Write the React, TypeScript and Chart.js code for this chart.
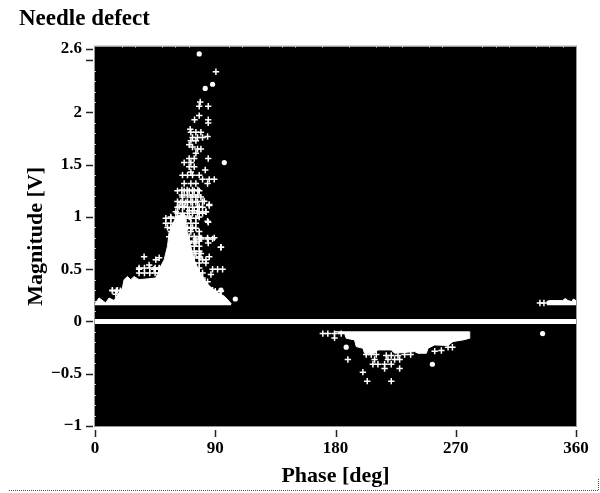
import React, { useEffect, useRef } from "react";
import { Chart, registerables } from "chart.js";

Chart.register(...registerables);

const TITLE = "Needle defect";
const X_TITLE = "Phase [deg]";
const Y_TITLE = "Magnitude [V]";
const xTicks = [0, 90, 180, 270, 360];
const yTicks = [-1, -0.5, 0, 0.5, 1, 1.5, 2, 2.5, 2.61];
const yTickLabels = ["\u22121", "\u22120.5", "0", "0.5", "1", "1.5", "2", "", "2.6"];
const xMinor = [20, 30, 50, 60, 70, 100, 110, 130, 140, 150, 170, 190, 210, 220, 230, 250, 260, 290, 300, 310, 330, 340, 350];
const yMinor = [-0.9, -0.8, -0.7, -0.6, -0.4, -0.3, -0.2, -0.1, 0.1, 0.2, 0.3, 0.4, 0.6, 0.7, 0.8, 0.9, 1.1, 1.2, 1.3, 1.4, 1.6, 1.7, 1.8, 1.9, 2.1, 2.2, 2.3, 2.4];

// Solid white masses of overlapping points, read as outlines
const lobeAPhase = [0, 3, 8, 10.5, 14.25, 17, 20.5, 21.75, 24.25, 26.75, 29.25, 33, 45.5, 49.25, 51.75, 54.25, 55.5, 60.5, 66.75, 68, 70.5, 74, 78, 84, 90, 97, 102];
const lobeAMag = [0.17, 0.225, 0.178, 0.225, 0.2, 0.257, 0.32, 0.4, 0.43, 0.4, 0.43, 0.4, 0.416, 0.53, 0.59, 0.72, 0.85, 1.0, 1.04, 0.91, 0.78, 0.6, 0.48, 0.36, 0.29, 0.24, 0.17];
const lobeBPhase = [179.25, 186.75, 188, 194.25, 195.5, 200.5, 201.75, 209.25, 211.75, 221.75, 224.25, 239.25, 241.75, 248, 249.25, 254.25, 264.25, 268, 275.5, 280.5, 280.5];
const lobeBMag = [-0.097, -0.113, -0.16, -0.176, -0.24, -0.256, -0.304, -0.304, -0.272, -0.272, -0.304, -0.288, -0.304, -0.304, -0.256, -0.224, -0.23, -0.192, -0.176, -0.16, -0.097];
const lobeCPhase = [338, 340, 350, 352, 354, 357, 358, 360];
const lobeCMag = [0.19, 0.2, 0.2, 0.22, 0.2, 0.19, 0.215, 0.2];
const zeroPhase = [0, 360];
const zeroMag = [0, 0];

const crossPhase = [
  90.5, 78.75, 78, 84.75, 78, 74.5, 84.75, 84.75, 71.25,
  71.75, 75.5, 79.25, 73, 76.75, 80.5, 84.25, 71.75, 75.5, 70.5, 73, 76.75, 79.25, 75.5, 84.75,
  66.75, 70.5, 74.25, 71.75, 70.5, 74.25, 82.5, 71.75, 65.5, 69.25, 73, 78, 80.5, 85.5, 89.25,
  66.75, 71.75, 75.5, 84.25, 61.75, 66.75, 70.5, 74.25, 78, 65.5, 71.75, 75.5, 79.25, 81.75, 85.5,
  64.25, 68, 71.75, 75.5, 78, 63, 66.75, 70.5, 74.25, 78, 83, 60.5, 56.75, 61.75, 65.5, 70.5, 78,
  84.75, 54.25, 58, 69.25, 73, 78, 56.75, 71.75, 75.5, 79.25, 84.25, 88, 84.75, 94.25, 55.5, 70.5, 75.5,
  36.75, 40.5, 45.5, 48, 33, 44.25, 48, 85.5, 79.25, 78, 83, 94.25, 89.25, 84.25, 79.25, 84.25, 83, 78, 85.5,
  95.5, 91.75, 88, 86.75, 84.25, 80.5, 83, 88, 84.25, 91.75, 13, 16.75, 15.5, 70.5, 75.5, 70.5, 75.5, 80.5,
  // dense mesh beside the main column
  66.75, 70.5, 74.25, 78, 66.75, 70.5, 74.25, 78, 66.75, 70.5, 74.25, 78, 66.75, 70.5, 74.25, 78,
  66.75, 70.5, 74.25, 78, 66.75, 70.5, 74.25, 78, 66.75, 70.5, 74.25, 78, 66.75, 70.5, 74.25, 78,
  66.75, 70.5, 74.25, 78, 80.5, 80.5, 81.75, 85.5, 90, 94.25, 81.75, 85.5, 90, 94.25,
  33, 37, 41, 45, 48, 33, 37, 41, 45, 48, 13, 16, 19,
  61.75, 65.5, 69.25, 73, 76.75, 80.5, 61.75, 65.5, 69.25, 73, 76.75, 80.5, 61.75, 65.5, 69.25, 73, 76.75, 80.5,
  65, 69, 73, 77, 65, 69, 73, 77,
  53, 56.75, 60.5, 64.25, 68, 71.75, 75.5, 53, 56.75, 60.5, 64.25, 68, 71.75, 75.5, 56.75, 60.5, 64.25, 68, 71.75, 75.5,
  // lower lobe
  170.5, 174.25, 179.25, 179.25, 184.25, 189.25, 203, 206.75, 210.5, 218, 221.75, 226.75, 231.75, 236.25,
  209.25, 219.25, 224.25, 228, 208, 211.75, 216.75, 221.75, 216.75, 228, 200.5, 203.75, 221.75,
  254.25, 259.25, 264.25, 267.5, 333, 336,
];
const crossMag = [
  2.39, 2.1, 2.06, 2.06, 1.97, 1.93, 1.93, 1.9, 1.84,
  1.81, 1.81, 1.81, 1.76, 1.76, 1.76, 1.77, 1.73, 1.73, 1.69, 1.67, 1.65, 1.65, 1.61, 1.56,
  1.52, 1.56, 1.56, 1.52, 1.48, 1.48, 1.45, 1.43, 1.4, 1.4, 1.4, 1.4, 1.36, 1.36, 1.36,
  1.32, 1.32, 1.32, 1.32, 1.25, 1.25, 1.25, 1.25, 1.25, 1.19, 1.19, 1.19, 1.19, 1.15, 1.11,
  1.14, 1.14, 1.14, 1.14, 1.1, 1.1, 1.1, 1.06, 1.06, 1.05, 1.05, 1.05, 1.0, 1.0, 1.0, 1.0, 1.0,
  0.95, 0.9, 0.9, 0.9, 0.9, 0.86, 0.86, 0.86, 0.79, 0.79, 0.79, 0.79, 0.75, 0.71, 0.81, 0.75, 0.75,
  0.62, 0.54, 0.59, 0.61, 0.5, 0.5, 0.5, 0.62, 0.65, 0.62, 0.59, 0.71, 0.8, 0.8, 0.8, 0.96, 1.05, 1.05, 1.12,
  0.5, 0.5, 0.5, 0.45, 0.38, 0.59, 0.56, 0.3, 0.3, 0.24, 0.3, 0.3, 0.26, 0.75, 0.65, 0.57, 0.46, 0.4,
  0.814, 0.814, 0.814, 0.814, 0.767, 0.767, 0.767, 0.767, 0.719, 0.719, 0.719, 0.719, 0.671, 0.671, 0.671, 0.671,
  0.607, 0.607, 0.607, 0.607, 0.56, 0.56, 0.56, 0.56, 0.512, 0.512, 0.512, 0.512, 0.464, 0.464, 0.464, 0.464,
  0.416, 0.416, 0.416, 0.416, 0.416, 0.464, 0.29, 0.29, 0.29, 0.29, 0.24, 0.24, 0.24, 0.24,
  0.464, 0.464, 0.464, 0.464, 0.464, 0.512, 0.512, 0.512, 0.512, 0.512, 0.295, 0.295, 0.295,
  1.147, 1.147, 1.147, 1.147, 1.147, 1.147, 1.093, 1.093, 1.093, 1.093, 1.093, 1.093, 1.036, 1.036, 1.036, 1.036, 1.036, 1.036,
  1.259, 1.259, 1.259, 1.259, 1.21, 1.21, 1.21, 1.21,
  0.988, 0.988, 0.988, 0.988, 0.988, 0.988, 0.988, 0.94, 0.94, 0.94, 0.94, 0.94, 0.94, 0.94, 0.893, 0.893, 0.893, 0.893, 0.893, 0.893,
  -0.116, -0.116, -0.116, -0.157, -0.116, -0.364, -0.316, -0.316, -0.316, -0.326, -0.326, -0.326, -0.316, -0.316,
  -0.364, -0.364, -0.364, -0.364, -0.409, -0.409, -0.409, -0.409, -0.45, -0.45, -0.485, -0.571, -0.571,
  -0.284, -0.278, -0.246, -0.246, 0.177, 0.177,
];
const dotPhase = [78, 88, 82.5, 96.75, 105, 94.25, 188, 252.5, 335];
const dotMag = [2.56, 2.27, 2.23, 1.52, 0.215, 0.3, -0.246, -0.409, -0.116];

const pairs = (xs: number[], ys: number[]) => xs.map((x, i) => ({ x, y: ys[i] }));

const frame = {
  id: "frame",
  beforeDatasetsDraw(chart: any) {
    const { ctx, chartArea: a } = chart;
    ctx.save();
    ctx.fillStyle = "#000";
    ctx.fillRect(a.left, a.top, a.width, a.height);
    ctx.restore();
  },
  afterDatasetsDraw(chart: any) {
    const { ctx, chartArea: a, scales } = chart;
    ctx.save();
    ctx.strokeStyle = "#999";
    ctx.lineWidth = 1;
    ctx.strokeRect(a.left - 0.5, a.top - 0.5, a.width + 1, a.height + 1);
    ctx.strokeStyle = "#ccc";
    ctx.beginPath();
    xMinor.forEach((v) => {
      const p = Math.round(scales.x.getPixelForValue(v)) + 0.5;
      ctx.moveTo(p, a.top - 1);
      ctx.lineTo(p, a.top + 1);
    });
    yMinor.forEach((v) => {
      const p = Math.round(scales.y.getPixelForValue(v)) + 0.5;
      ctx.moveTo(a.left - 1, p);
      ctx.lineTo(a.left + 1, p);
    });
    ctx.stroke();
    ctx.strokeStyle = "#222";
    ctx.lineWidth = 1.5;
    ctx.beginPath();
    xTicks.forEach((v) => {
      const p = Math.round(scales.x.getPixelForValue(v)) + 0.5;
      ctx.moveTo(p, a.bottom + 4);
      ctx.lineTo(p, a.bottom + 11);
    });
    yTicks.forEach((v) => {
      const p = Math.round(scales.y.getPixelForValue(v)) + 0.5;
      ctx.moveTo(a.left - 9, p);
      ctx.lineTo(a.left - 2, p);
    });
    ctx.stroke();
    ctx.restore();
  },
};

const SERIF = "'Liberation Serif', serif";

export default function App() {
  const ref = useRef<HTMLCanvasElement>(null);
  useEffect(() => {
    document.body.style.margin = "0";
    const area = (xs: number[], ys: number[], base: number) => ({
      type: "line" as const,
      data: pairs(xs, ys),
      borderColor: "#fff",
      backgroundColor: "#fff",
      borderWidth: 1,
      pointRadius: 0,
      tension: 0,
      fill: { value: base },
    });
    const chart = new Chart(ref.current!, {
      type: "scatter",
      plugins: [frame],
      data: {
        datasets: [
          area(lobeAPhase, lobeAMag, 0.155),
          area(lobeBPhase, lobeBMag, -0.093),
          area(lobeCPhase, lobeCMag, 0.155),
          {
            type: "line" as const,
            data: pairs(zeroPhase, zeroMag),
            borderColor: "#fff",
            borderWidth: 5,
            pointRadius: 0,
          },
          {
            data: pairs(crossPhase, crossMag),
            pointStyle: "cross",
            pointRadius: 3.2,
            pointBorderColor: "#fff",
            pointBorderWidth: 1.5,
            showLine: false,
          },
          {
            data: pairs(dotPhase, dotMag),
            pointStyle: "circle",
            pointRadius: 2.6,
            pointBackgroundColor: "#fff",
            pointBorderColor: "#fff",
            pointBorderWidth: 0,
            showLine: false,
          },
        ] as any,
      },
      options: {
        animation: false,
        responsive: false,
        layout: { padding: { left: 19, right: 24, top: 0, bottom: 3 } },
        plugins: {
          legend: { display: false },
          tooltip: { enabled: false },
          title: {
            display: true,
            text: TITLE,
            align: "start",
            color: "#000",
            font: { family: SERIF, size: 23, weight: "bold" },
            padding: { top: 5, bottom: 14 },
          },
        },
        scales: {
          x: {
            type: "linear",
            min: 0,
            max: 360,
            afterBuildTicks: (s: any) => {
              s.ticks = xTicks.map((value) => ({ value }));
            },
            afterFit: (s: any) => {
              s.height = 64;
            },
            border: { display: false },
            grid: { drawOnChartArea: false, tickLength: 12, tickColor: "rgba(0,0,0,0)" },
            ticks: {
              color: "#000",
              maxRotation: 0,
              padding: 0,
              font: { family: SERIF, size: 17, weight: "bold" },
            },
            title: {
              display: true,
              text: X_TITLE,
              color: "#000",
              font: { family: SERIF, size: 22, weight: "bold" },
              padding: { top: 4, bottom: 0 },
            },
          },
          y: {
            type: "linear",
            min: -1,
            max: 2.63,
            afterBuildTicks: (s: any) => {
              s.ticks = yTicks.map((value) => ({ value }));
            },
            afterFit: (s: any) => {
              s.width = 76;
            },
            border: { display: false },
            grid: { drawOnChartArea: false, tickLength: 10, tickColor: "rgba(0,0,0,0)" },
            ticks: {
              color: "#000",
              padding: 3,
              font: { family: SERIF, size: 17, weight: "bold" },
              callback: (v: any) => yTickLabels[yTicks.indexOf(Number(v))] ?? "",
            },
            title: {
              display: true,
              text: Y_TITLE,
              color: "#000",
              font: { family: SERIF, size: 22, weight: "bold" },
              padding: { top: 4, bottom: 0 },
            },
          },
        },
      },
    } as any);
    return () => chart.destroy();
  }, []);
  return (
    <div style={{ position: "relative", width: 600, height: 493 }}>
      <canvas ref={ref} width={600} height={493} style={{ display: "block" }} />
      <div style={{ position: "absolute", left: 9, top: 490, width: 589, borderTop: "1px dotted #555" }} />
      <div style={{ position: "absolute", left: 598, top: 479, height: 11, borderLeft: "1px dotted #555" }} />
    </div>
  );
}
